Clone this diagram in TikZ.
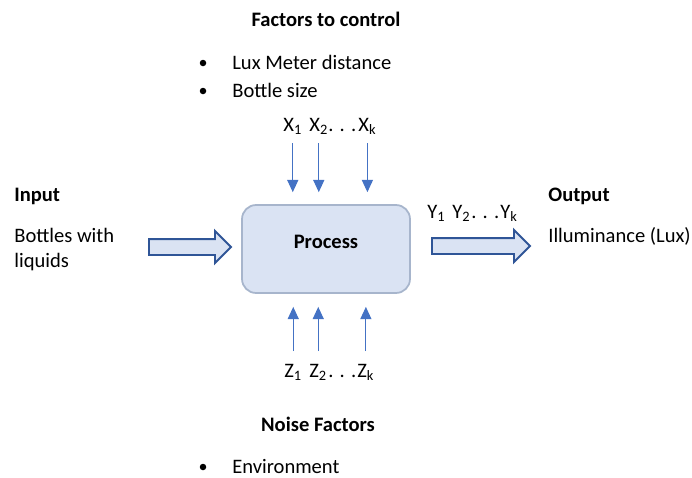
\documentclass[tikz,border=0pt]{standalone}
\usepackage{fontspec}
\setmainfont{Carlito}
\usetikzlibrary{calc, arrows.meta, shapes.arrows}

\definecolor{boxfill}{HTML}{DAE3F3}
\definecolor{boxline}{HTML}{A7B5CC}
\definecolor{factorline}{HTML}{4472C4}
\definecolor{blockline}{HTML}{2F5597}

\begin{document}
\begin{tikzpicture}[x=0.02cm, y=-0.02cm,
  txt/.style={inner sep=0pt, font=\fontsize{11.7}{13}\selectfont},
  head/.style={inner sep=0pt, font=\fontsize{11.7}{13}\selectfont\bfseries},
  dot/.style={circle, fill=black, inner sep=0pt, minimum size=0.13cm},
  processbox/.style={draw=boxline, fill=boxfill, line width=1pt, rounded corners=8pt, minimum width=3.36cm, minimum height=1.76cm},
  blockarrow/.style={single arrow, draw=blockline, fill=boxfill, line width=1.1pt, inner xsep=0pt, inner ysep=0.14cm, single arrow head extend=0.16cm},
  factor/.style={draw=factorline, line width=0.7pt, -{Triangle[length=7pt, width=6.3pt]}}]
  \useasboundingbox (0, 0) rectangle (692, 477);

  \draw (326, 249) node[processbox] (process) {};
  \draw ($(process.center) + (0, -1)$) node[head, anchor=base] (proc) {Process};

% factors to control
  \draw (326, 26) node[head, anchor=base] (control) {Factors to control};
  \draw (203, 63) node[dot] (b1) {};
  \draw (232, 69) node[txt, anchor=base west] (lux) {Lux Meter distance};
  \draw (203, 91) node[dot] (b2) {};
  \draw (232, 97) node[txt, anchor=base west] (size) {Bottle size};

  \draw (283, 131) node[txt, anchor=base west] (x1) {X\textsubscript{1}};
  \draw (309, 131) node[txt, anchor=base west] (x2) {X\textsubscript{2}};
  \draw (328, 131) node[txt, anchor=base west] (xd) {. . .};
  \draw (358, 131) node[txt, anchor=base west] (xk) {X\textsubscript{k}};
  \foreach \i in {1, 2, k}{
    \draw[factor, shorten <=5pt, shorten >=6.8pt] (x\i.south) -- (x\i.south |- process.north);
  }

% noise factors
  \draw (284, 377) node[txt, anchor=base west] (z1) {Z\textsubscript{1}};
  \draw (309, 377) node[txt, anchor=base west] (z2) {Z\textsubscript{2}};
  \draw (328, 377) node[txt, anchor=base west] (zd) {. . .};
  \draw (357, 377) node[txt, anchor=base west] (zk) {Z\textsubscript{k}};
  \foreach \i in {1, 2, k}{
    \draw[factor, shorten <=7pt, shorten >=7.4pt] (z\i.north) -- (z\i.north |- process.south);
  }

  \draw (318, 431) node[head, anchor=base] (noise) {Noise Factors};
  \draw (203, 467) node[dot] (b3) {};
  \draw (232, 473) node[txt, anchor=base west] (env) {Environment};

% input
  \draw (14, 201) node[head, anchor=base west] (input) {Input};
  \draw (14, 242) node[txt, anchor=base west] (bottles) {Bottles with};
  \draw (14, 267) node[txt, anchor=base west] (liquids) {liquids};
  \draw (186, 247) node[blockarrow, minimum height=1.64cm] (inarrow) {};

% output
  \draw (477, 246) node[blockarrow, minimum height=1.96cm] (outarrow) {};
  \draw (427, 218) node[txt, anchor=base west] (y1) {Y\textsubscript{1}};
  \draw (452, 218) node[txt, anchor=base west] (y2) {Y\textsubscript{2}};
  \draw (471, 218) node[txt, anchor=base west] (yd) {. . .};
  \draw (500, 218) node[txt, anchor=base west] (yk) {Y\textsubscript{k}};
  \draw (548, 201) node[head, anchor=base west] (output) {Output};
  \draw (548, 242) node[txt, anchor=base west] (lux) {Illuminance (Lux)};
\end{tikzpicture}
\end{document}
